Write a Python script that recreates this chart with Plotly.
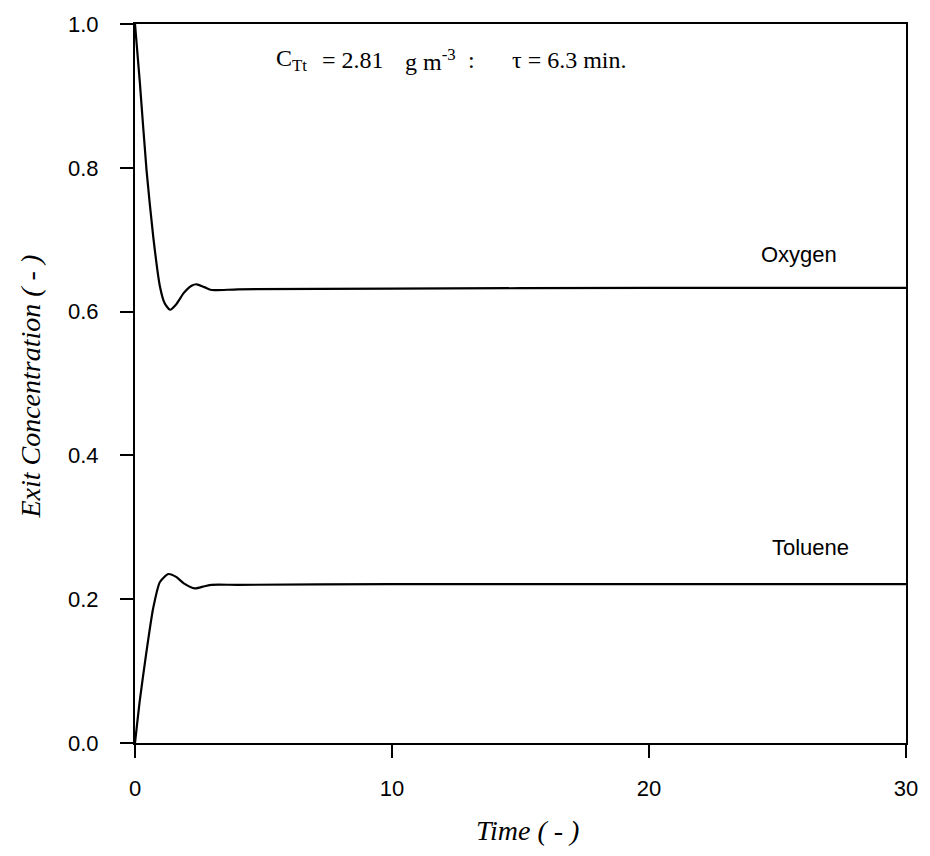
import plotly.graph_objects as go

# Data
oxy_t = [0, 0.19, 0.45, 0.71, 0.97, 1.15, 1.36, 1.6, 1.9, 2.2, 2.4, 2.7, 2.98, 4, 10, 20, 30]
oxy_v = [1.0, 0.918, 0.796, 0.704, 0.635, 0.612, 0.6026, 0.610, 0.626, 0.636, 0.638, 0.634, 0.630, 0.631, 0.632, 0.633, 0.633]

tol_t = [0, 0.19, 0.45, 0.71, 0.97, 1.3, 1.6, 1.9, 2.33, 2.7, 2.98, 4, 10, 20, 30]
tol_v = [0, 0.06, 0.128, 0.188, 0.224, 0.235, 0.231, 0.222, 0.215, 0.218, 0.220, 0.220, 0.221, 0.221, 0.221]

x_ticks = [0, 10, 20, 30]
y_ticks = [0.0, 0.2, 0.4, 0.6, 0.8, 1.0]

# plot-area geometry in pixels (for placing free text)
L, R, T, B = 135, 907, 19, 743
PW, PH = R - L, B - T

def px(xp):
    return (xp - L) / PW

def py(yp):
    return (B - yp) / PH

fig = go.Figure()
line_style = dict(color="black", width=2.2, shape="spline", smoothing=0.6)
fig.add_trace(go.Scatter(x=oxy_t, y=oxy_v, mode="lines", line=line_style, name="Oxygen", showlegend=False))
fig.add_trace(go.Scatter(x=tol_t, y=tol_v, mode="lines", line=line_style, name="Toluene", showlegend=False))

sans = "Liberation Sans, Arial"
serif = "Liberation Serif, Times New Roman"
tick_font = dict(family=sans, size=22, color="black")
title_font = dict(family=serif, size=28, color="black")
head_font = dict(family=serif, size=24, color="black")

annotations = [
    dict(x=px(840), y=0.679, xref="paper", yref="y", text="Oxygen", showarrow=False,
         xanchor="right", yanchor="middle", font=dict(family=sans, size=22, color="black")),
    dict(x=px(852), y=0.272, xref="paper", yref="y", text="Toluene", showarrow=False,
         xanchor="right", yanchor="middle", font=dict(family=sans, size=22, color="black")),
    # axis titles
    dict(x=px(528), y=py(831), xref="paper", yref="paper", text="<i>Time ( - )</i>", showarrow=False,
         xanchor="center", yanchor="middle", font=title_font),
    dict(x=px(30), y=py(384), xref="paper", yref="paper", text="<i>Exit Concentration ( - )</i>",
         showarrow=False, textangle=-90, xanchor="center", yanchor="middle", font=title_font),
]

# header text pieces: (left pixel, text)
head_parts = [
    (274, "C<sub>Tt</sub>"),
    (320, "= 2.81"),
    (403, "g m<sup>-3</sup>"),
    (466, ":"),
    (510, "τ = 6.3 min."),
]
for xp, txt in head_parts:
    annotations.append(dict(x=px(xp), y=py(55), xref="paper", yref="paper", text=txt, showarrow=False,
                            xanchor="left", yanchor="middle", font=head_font))

fig.update_layout(
    width=930, height=856,
    margin=dict(l=L, r=930 - R, t=T, b=856 - B),
    plot_bgcolor="white", paper_bgcolor="white",
    xaxis=dict(range=[0, 30], tickvals=x_ticks, ticks="outside", ticklen=13, tickwidth=2,
               tickcolor="black", showline=True, linecolor="black", linewidth=2, mirror=True,
               showgrid=False, zeroline=False, tickfont=tick_font, ticklabelstandoff=12),
    yaxis=dict(range=[0, 1.0], tickvals=y_ticks, tickformat=".1f", ticks="outside", ticklen=13, tickwidth=2,
               tickcolor="black", showline=True, linecolor="black", linewidth=2, mirror=True,
               showgrid=False, zeroline=False, tickfont=tick_font, ticklabelstandoff=17),
    annotations=annotations,
)

fig.write_html("out.html")
